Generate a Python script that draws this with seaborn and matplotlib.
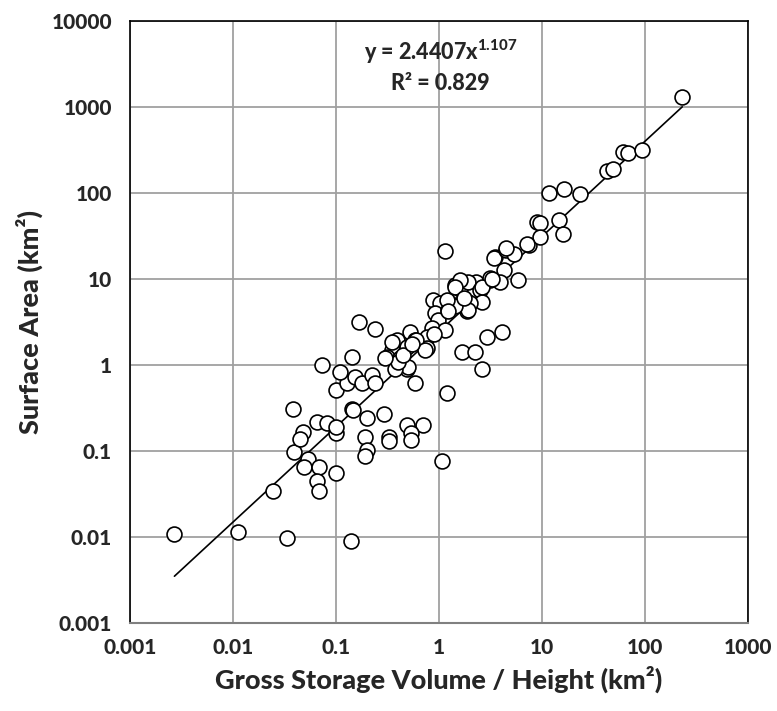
import numpy as np
import pandas as pd
import matplotlib
matplotlib.use("Agg")
import matplotlib.pyplot as plt
import seaborn as sns

# -------------------------------
# Data
# -------------------------------
volume_height = [
    0.0027, 0.0111, 0.0332, 0.14, 0.0246, 0.0386, 0.039, 0.048, 0.045, 0.054,
    0.049, 0.069, 0.066, 0.069, 0.099, 0.066, 0.082, 0.10, 0.10, 0.10,
    0.127, 0.142, 0.145, 0.073, 0.142, 0.11, 0.153, 0.178, 0.222, 0.24,
    0.2, 0.29, 0.58, 0.49, 0.35, 0.485, 0.70, 0.54, 0.54, 0.33,
    0.33, 0.19, 0.2, 0.19, 1.19, 1.06, 0.168, 0.24,
    0.88, 1.02, 0.91, 0.98, 0.85, 1.15, 0.76, 0.52, 0.58, 0.39,
    0.76, 0.485, 0.35, 0.31, 0.42, 0.5, 0.37, 2.9, 4.1, 1.66,
    2.24, 2.6, 1.43, 1.6, 1.92, 1.86, 1.43, 1.22, 2.3, 1.92,
    1.15, 3.5, 4.3, 3.1, 2.5, 2.6, 2.0, 1.92, 1.43, 1.19,
    1.22, 3.4, 3.9, 5.9, 3.1, 1.6, 1.43, 4.5, 5.3, 7.4,
    8.9, 9.5, 14.7, 15.9, 9.6, 7.1, 4.5, 11.8, 16.5, 23.6,
    42.5, 48.5, 61.5, 69, 94, 230,
    0.35, 0.6, 0.4, 0.3, 0.73, 0.9, 0.45, 0.55, 1.75, 2.6, 3.3,
]
surface_area = [
    0.0108, 0.0113, 0.0098, 0.0091, 0.0343, 0.305, 0.097, 0.168, 0.138, 0.08,
    0.066, 0.065, 0.045, 0.0346, 0.055, 0.215, 0.21, 0.16, 0.19, 0.51,
    0.61, 0.31, 0.30, 1.0, 1.25, 0.84, 0.73, 0.61, 0.77, 0.61,
    0.24, 0.27, 0.61, 0.91, 1.43, 0.2, 0.2, 0.16, 0.134, 0.147,
    0.13, 0.147, 0.103, 0.087, 0.47, 0.077, 3.2, 2.6,
    5.7, 5.2, 4.0, 3.3, 2.7, 2.55, 2.13, 2.44, 1.95, 1.95,
    1.56, 1.63, 1.5, 1.25, 1.2, 0.95, 0.91, 2.13, 2.44, 1.43,
    1.43, 0.91, 8.5, 7.7, 5.4, 4.2, 5.0, 4.4, 9.3, 9.3,
    21, 18, 12.7, 9.7, 7.4, 5.4, 5.2, 4.4, 4.8, 5.7,
    4.2, 17.4, 9.3, 9.7, 10.2, 9.7, 8.1, 22, 19.5, 25,
    46, 44.5, 49, 33, 30.5, 25.5, 23, 99, 110, 97,
    181, 190, 302, 295, 316, 1318,
    1.85, 1.95, 1.09, 1.2, 1.5, 2.3, 1.3, 1.75, 6.0, 8.0, 10.0,
]

# power trendline from the chart label
coef_a = 2.4407
coef_b = 1.107
r_squared = 0.829

x_ticks = [0.001, 0.01, 0.1, 1, 10, 100, 1000]
x_tick_labels = ["0.001", "0.01", "0.1", "1", "10", "100", "1000"]
y_ticks = [0.001, 0.01, 0.1, 1, 10, 100, 1000, 10000]
y_tick_labels = ["0.001", "0.01", "0.1", "1", "10", "100", "1000", "10000"]

df = pd.DataFrame({"x": volume_height, "y": surface_area})
trend_x = np.array([min(volume_height), max(volume_height)])
trend = pd.DataFrame({"x": trend_x, "y": coef_a * trend_x ** coef_b})

# -------------------------------
# Style
# -------------------------------
sns.set_style("white")
plt.rcParams["font.family"] = ["Lato", "DejaVu Sans"]
plt.rcParams["mathtext.fontset"] = "custom"
plt.rcParams["mathtext.rm"] = "Lato"
plt.rcParams["mathtext.bf"] = "Lato:black"
plt.rcParams["mathtext.default"] = "bf"

fig = plt.figure(figsize=(7.77, 7.11), dpi=100)
ax = fig.add_axes([130 / 777, 1 - 623 / 711, 618 / 777, 602 / 711])

ax.set_xscale("log")
ax.set_yscale("log")
ax.set_xlim(0.001, 1000)
ax.set_ylim(0.001, 10000)

ax.set_xticks(x_ticks)
ax.set_yticks(y_ticks)
ax.minorticks_off()
ax.grid(True, which="major", color="#a0a0a0", linewidth=1.3)
ax.set_axisbelow(True)

# trendline + scatter
sns.lineplot(data=trend, x="x", y="y", color="black", linewidth=1.2, ax=ax, zorder=2)
sns.scatterplot(data=df, x="x", y="y", marker="o", s=115, facecolor="white",
                edgecolor="black", linewidth=1.2, ax=ax, zorder=3)

ax.set_xticklabels(x_tick_labels)
ax.set_yticklabels(y_tick_labels)
ax.tick_params(axis="both", which="major", direction="out", length=5, width=1,
               color="#a0a0a0", labelsize=15)
ax.tick_params(axis="y", pad=8)
ax.tick_params(axis="x", pad=6)
for lab in ax.get_xticklabels() + ax.get_yticklabels():
    lab.set_fontweight("black")

for side in ["left", "right", "top"]:
    ax.spines[side].set_color("black")
    ax.spines[side].set_linewidth(1.2)
ax.spines["bottom"].set_color("#808080")
ax.spines["bottom"].set_linewidth(1.5)

ax.set_xlabel("Gross Storage Volume / Height (km²)", fontsize=19.5, fontweight="black", labelpad=6)
ax.set_ylabel("Surface Area (km²)", fontsize=19.5, fontweight="black", labelpad=6)

ax.text(0.502, 0.948, "y = %.4fx$^{%.3f}$" % (coef_a, coef_b), transform=ax.transAxes,
        ha="center", va="center", fontsize=15.5, fontweight="black")
ax.text(0.502, 0.897, "R² = %.3f" % r_squared, transform=ax.transAxes,
        ha="center", va="center", fontsize=15.5, fontweight="black")

plt.savefig("out.png", dpi=100)
